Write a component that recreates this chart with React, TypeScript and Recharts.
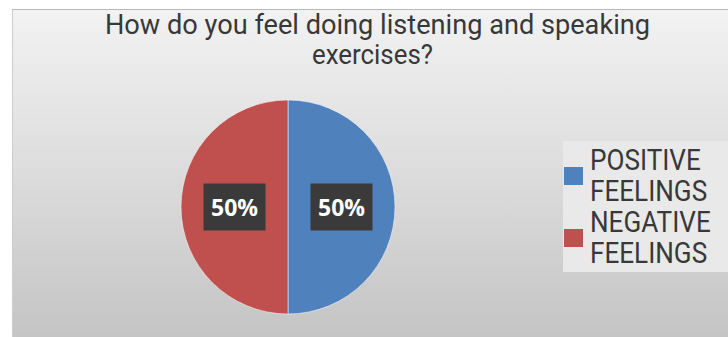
import React from 'react';
import { PieChart, Pie, Cell, Legend, Customized } from 'recharts';

const categories = ['POSITIVE FEELINGS', 'NEGATIVE FEELINGS'];
const values = [50, 50];
const colors = ['#4f81bd', '#c0504d'];
const titleLines = ['How do you feel doing listening and speaking', 'exercises?'];

const data = categories.map((name, i) => ({ name, value: values[i] }));

const RAD = Math.PI / 180;

const renderLabel = (props: any) => {
  const { cx, cy, midAngle, outerRadius, percent } = props;
  const r = outerRadius * 0.5;
  const x = cx + r * Math.cos(-midAngle * RAD);
  const y = cy + r * Math.sin(-midAngle * RAD);
  return (
    <g>
      <rect x={x - 31} y={y - 23.5} width={62} height={47} fill="#3a3a3a" />
      <text
        x={x}
        y={y + 8.5}
        textAnchor="middle"
        fill="#ffffff"
        fontFamily="'Open Sans', sans-serif"
        fontWeight={700}
        fontSize={23}
      >
        {`${Math.round(percent * 100)}%`}
      </text>
    </g>
  );
};

const Title = () => (
  <g>
    <text
      x={377.5}
      y={34}
      textAnchor="middle"
      fill="#383838"
      fontFamily="Roboto, sans-serif"
      fontSize={27}
      textLength={545}
      lengthAdjust="spacingAndGlyphs"
    >
      {titleLines[0]}
    </text>
    <text
      x={372.5}
      y={64}
      textAnchor="middle"
      fill="#383838"
      fontFamily="Roboto, sans-serif"
      fontSize={27}
      textLength={121}
      lengthAdjust="spacingAndGlyphs"
    >
      {titleLines[1]}
    </text>
  </g>
);

const LegendContent = (props: any) => {
  const payload = [...(props.payload || [])].sort(
    (a: any, b: any) => categories.indexOf(String(a.value)) - categories.indexOf(String(b.value))
  );
  return (
    <div
      style={{
        background: '#e9e9e9',
        width: 165,
        height: 131,
        boxSizing: 'border-box',
        paddingTop: 3.6,
      }}
    >
      {payload.map((entry: any, i: number) => (
        <div key={i} style={{ display: 'flex', alignItems: 'center', height: 62 }}>
          <div
            style={{
              width: 19,
              height: 18,
              background: entry.color,
              marginLeft: 1,
              flex: '0 0 auto',
            }}
          />
          <div
            style={{
              marginLeft: 7,
              fontFamily: 'Roboto, sans-serif',
              fontSize: 29,
              lineHeight: '31px',
              color: '#383838',
              transform: 'scaleX(0.9)',
              transformOrigin: 'left center',
              whiteSpace: 'nowrap',
            }}
          >
            {String(entry.value)
              .split(' ')
              .map((w: string, j: number) => (
                <div key={j}>{w}</div>
              ))}
          </div>
        </div>
      ))}
    </div>
  );
};

export default function App() {
  return (
    <div style={{ position: 'absolute', left: 0, top: 0, width: 728, height: 337, background: '#ffffff' }}>
      <div
        style={{
          position: 'absolute',
          left: 12,
          top: 9,
          width: 716,
          height: 328,
          boxSizing: 'border-box',
          background: 'linear-gradient(to bottom, #f2f2f2 0%, #dcdcdc 50%, #c4c4c4 100%)',
          borderTop: '1px solid #b8b8b8',
          borderLeft: '1px solid #cdcdcd',
        }}
      />
      <div style={{ position: 'absolute', left: 0, top: 0 }}>
        <PieChart width={728} height={337} margin={{ top: 0, right: 0, bottom: 0, left: 0 }}>
          <Customized component={<Title />} />
          <Pie
            data={data}
            dataKey="value"
            nameKey="name"
            cx={288}
            cy={207}
            outerRadius={107}
            startAngle={90}
            endAngle={-270}
            stroke="rgba(255,255,255,0.5)"
            strokeWidth={1}
            label={renderLabel}
            labelLine={false}
            isAnimationActive={false}
          >
            {data.map((d, i) => (
              <Cell key={d.name} fill={colors[i]} />
            ))}
          </Pie>
          <Legend
            layout="vertical"
            align="right"
            verticalAlign="top"
            content={<LegendContent />}
            wrapperStyle={{ left: 563, top: 141, width: 165, height: 131, right: 'auto', bottom: 'auto' }}
          />
        </PieChart>
      </div>
    </div>
  );
}
